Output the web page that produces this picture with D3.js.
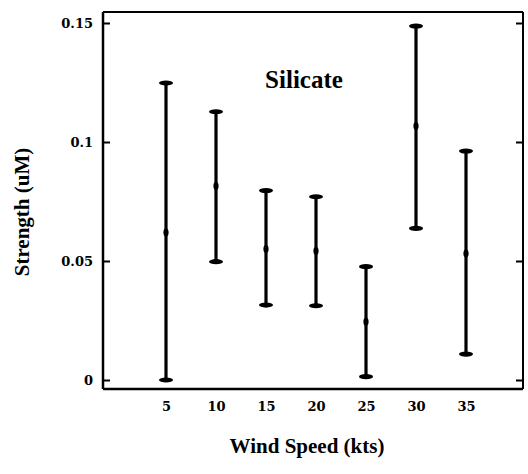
<!DOCTYPE html>
<html><head><meta charset="utf-8">
<script src="https://cdn.jsdelivr.net/npm/d3@7"></script>
<style>body{margin:0;background:#fff}svg{display:block}</style>
</head><body>
<script>
const windSpeeds = [5, 10, 15, 20, 25, 30, 35];
const means = [0.062, 0.0815, 0.055, 0.0542, 0.0245, 0.1067, 0.0532];
const lows = [0.0, 0.0497, 0.0315, 0.0312, 0.0014, 0.0637, 0.0109];
const highs = [0.1248, 0.1127, 0.0796, 0.077, 0.0476, 0.1487, 0.0962];
const yTicks = [0, 0.05, 0.1, 0.15];
const yTickLabels = ["0", "0.05", "0.1", "0.15"];
const xTicks = [5, 10, 15, 20, 25, 30, 35];

const FONT = "'Liberation Serif', 'DejaVu Serif', serif";
const TICKFONT = "'DejaVu Serif', 'Liberation Serif', serif";
const W = 528, H = 474;
const L = 103, R = 523, T = 12, B = 389;
const svg = d3.select("body").append("svg").attr("width", W).attr("height", H);

const x = d3.scaleLinear().domain([-1.3, 40.7]).range([L, R]);
const y = d3.scaleLinear().domain([0, 0.15]).range([380, 23]);

// frame
svg.append("line").attr("x1", L).attr("x2", R).attr("y1", T).attr("y2", T).attr("stroke", "#000").attr("stroke-width", 2);
svg.append("line").attr("x1", R).attr("x2", R).attr("y1", T).attr("y2", B).attr("stroke", "#000").attr("stroke-width", 2);

// left axis
const yAxis = d3.axisLeft(y).tickValues(yTicks).tickFormat((d, i) => yTickLabels[i]).tickSizeInner(-7).tickSizeOuter(0).tickPadding(10);
const gy = svg.append("g").attr("transform", `translate(${L},0)`).call(yAxis)
  .attr("font-family", TICKFONT).attr("font-weight", "bold").attr("font-size", 13);
gy.select(".domain").attr("d", `M0,${T}V${B}`).attr("stroke-width", 2.5);
gy.selectAll(".tick line").attr("stroke-width", 2);

// right ticks
const yAxisR = d3.axisRight(y).tickValues(yTicks).tickFormat("").tickSizeInner(-7).tickSizeOuter(0);
const gyr = svg.append("g").attr("transform", `translate(${R},0)`).call(yAxisR);
gyr.select(".domain").remove();
gyr.selectAll(".tick line").attr("stroke-width", 2);

// bottom axis
const xAxis = d3.axisBottom(x).tickValues(xTicks).tickSize(0).tickPadding(13);
const gx = svg.append("g").attr("transform", `translate(0,${B})`).call(xAxis)
  .attr("font-family", TICKFONT).attr("font-weight", "bold").attr("font-size", 13);
gx.select(".domain").attr("d", `M${L},0H${R}`).attr("stroke-width", 2.5);

// error bars
const g = svg.append("g");
windSpeeds.forEach((w, i) => {
  const cx = x(w);
  g.append("line").attr("x1", cx).attr("x2", cx).attr("y1", y(lows[i])).attr("y2", y(highs[i])).attr("stroke", "#000").attr("stroke-width", 3.2);
  [lows[i], highs[i]].forEach(v => {
    g.append("ellipse").attr("cx", cx).attr("cy", y(v)).attr("rx", 7).attr("ry", 2.6).attr("fill", "#000");
  });
  g.append("ellipse").attr("cx", cx).attr("cy", y(means[i])).attr("rx", 2.6).attr("ry", 4).attr("fill", "#000");
});

const txt = (sel) => sel.attr("font-family", FONT).attr("font-weight", "bold").attr("fill", "#000").attr("text-anchor", "middle");
// title
svg.append("text").call(txt).attr("x", 304).attr("y", 88).attr("font-size", 25).text("Silicate");
// axis labels
svg.append("text").call(txt).attr("x", 307).attr("y", 453).attr("font-size", 21).text("Wind Speed (kts)");
svg.append("text").call(txt).attr("transform", "translate(29,212) rotate(-90)").attr("font-size", 21).text("Strength (uM)");
</script>
</body></html>
